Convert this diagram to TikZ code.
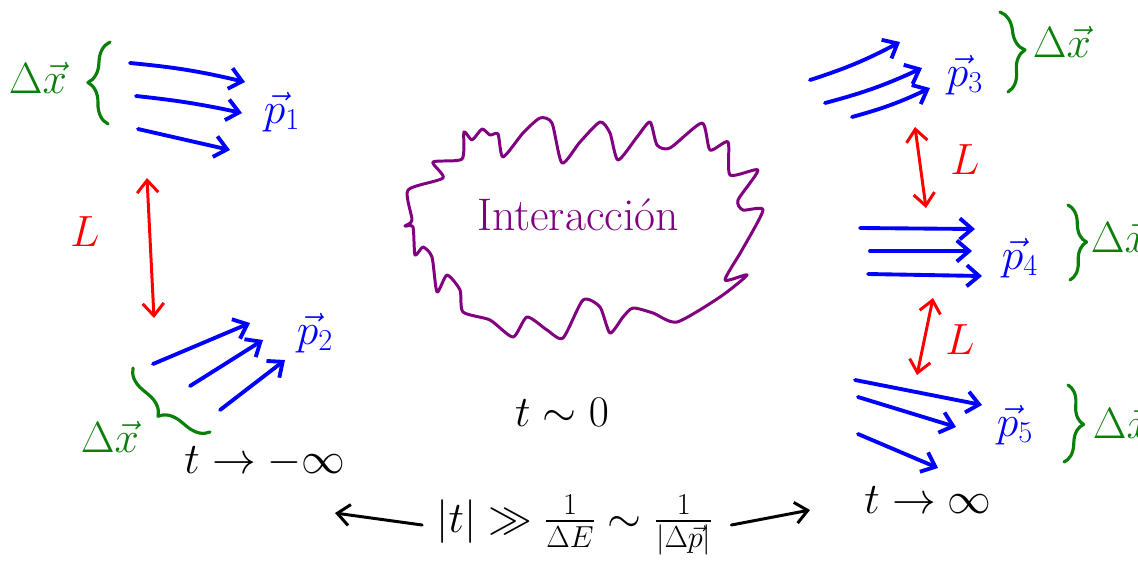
\documentclass[tikz,border=0pt]{standalone}
\usepackage{amsmath}
\usetikzlibrary{arrows.meta,decorations.pathreplacing}

\definecolor{pblue}{RGB}{0,0,255}
\definecolor{dgreen}{RGB}{10,128,10}
\definecolor{lred}{RGB}{255,0,0}
\definecolor{cpurple}{RGB}{128,0,128}

\newcommand{\hwfont}{\fontsize{24}{28}\selectfont}

\begin{document}
\begin{tikzpicture}[x=0.02cm, y=-0.02cm, >={Straight Barb[length=7pt,width=12pt]},
    line cap=round, line join=round,
    mom/.style={->, pblue, line width=2.2pt},
    lenarr/.style={<->, lred, line width=1.7pt},
    brc/.style={dgreen, line width=1.8pt, decorate, decoration={brace, amplitude=12pt}},
    every node/.style={inner sep=0pt, font=\hwfont}]
    \useasboundingbox (0,0) rectangle (1138,566);

    % 1. 左上: p1
    \node[dgreen] (dx1) at (38,78) {$\Delta\vec{x}$};
    \draw[brc] (108,124) -- (110,42);
    \draw[mom] (130,63) to[bend left=4] (245,82);
    \draw[mom] (136,96) to[bend left=3] (242,113);
    \draw[mom] (138,129) -- (230,150);
    \node[pblue] (p1) at (282,112) {$\vec{p}_1$};

    % 2. 左侧距离 L
    \node[lred, font=\fontsize{28}{32}\selectfont] (L1) at (85,232) {$L$};
    \draw[lenarr] (147,178) -- (154,318);

    % 3. 左下: p2
    \draw[mom] (153,364) -- (250,323);
    \draw[mom] (190,386) -- (263,340);
    \draw[mom] (220,410) -- (285,360);
    \node[pblue] (p2) at (315,333) {$\vec{p}_2$};
    \draw[brc] (210,432) -- (133,368);
    \node[dgreen] (dx2) at (110,437) {$\Delta\vec{x}$};
    \node (tminus) at (265,462) {$t\to-\infty$};

    % 4. 中间相互作用区
    \draw[cpurple, line width=1.7pt] plot[smooth cycle, tension=0.4] coordinates {
      (433,162) (462,159) (464,132) (472,140) (482,129) (490,135) (498,134) (503,157)
      (523,133) (540,118) (552,123) (562,163) (580,142) (600,122) (610,133) (618,160)
      (637,137) (650,122) (657,145) (670,148) (702,123) (710,150) (728,142) (730,175)
      (758,170) (738,200) (743,210) (763,210) (742,250) (725,280) (747,275) (720,297)
      (677,322) (653,313) (633,308) (623,317) (610,333) (600,307) (583,300) (563,338)
      (547,330) (527,317) (513,337) (490,320) (463,312) (460,290) (447,275) (437,292)
      (432,257) (423,247) (415,255) (413,227) (405,226) (412,220) (408,190) (443,178)};
    \node[cpurple, font=\fontsize{26}{30}\selectfont] (inter) at (578,215) {Interacción};
    \node[font=\fontsize{26}{30}\selectfont] (tzero) at (562,412) {$t\sim 0$};

    % 5. 底部条件
    \node (fml) at (575,525) {$|t|\gg\frac{1}{\Delta E}\sim\frac{1}{|\Delta\vec{p}|}$};
    \coordinate (lft) at (335,513);
    \coordinate (rgt) at (810,510);
    \draw[->, line width=1.7pt] ([xshift=-8pt]fml.west) -- (lft);
    \draw[->, line width=1.7pt] ([xshift=10pt]fml.east) -- (rgt);
    \node (tplus) at (928,500) {$t\to\infty$};

    % 6. 右上: p3
    \draw[mom] (810,80) to[bend right=5] (900,42);
    \draw[mom] (825,103) to[bend right=5] (922,68);
    \draw[mom] (852,117) to[bend right=5] (930,88);
    \node[pblue] (p3) at (965,75) {$\vec{p}_3$};
    \draw[brc] (1000,12) -- (1008,92);
    \node[dgreen] (dx3) at (1062,42) {$\Delta\vec{x}$};
    \draw[lenarr] (915,127) -- (926,208);
    \node[lred, font=\fontsize{28}{32}\selectfont] (L2) at (965,160) {$L$};

    % 7. 右中: p4
    \draw[mom] (860,228) -- (975,229);
    \draw[mom] (870,251) -- (972,251);
    \draw[mom] (868,274) -- (982,276);
    \node[pblue] (p4) at (1020,258) {$\vec{p}_4$};
    \draw[brc, decoration={amplitude=10pt}] (1068,205) -- (1070,280);
    \node[dgreen] (dx4) at (1120,237) {$\Delta\vec{x}$};
    \draw[lenarr] (933,298) -- (917,375);
    \node[lred, font=\fontsize{28}{32}\selectfont] (L3) at (960,340) {$L$};

    % 8. 右下: p5
    \draw[mom] (855,380) -- (982,405);
    \draw[mom] (858,397) -- (956,427);
    \draw[mom] (858,434) -- (938,468);
    \node[pblue] (p5) at (1015,425) {$\vec{p}_5$};
    \draw[brc, decoration={amplitude=10pt}] (1068,385) -- (1064,462);
    \node[dgreen] (dx5) at (1122,423) {$\Delta\vec{x}$};
\end{tikzpicture}
\end{document}
